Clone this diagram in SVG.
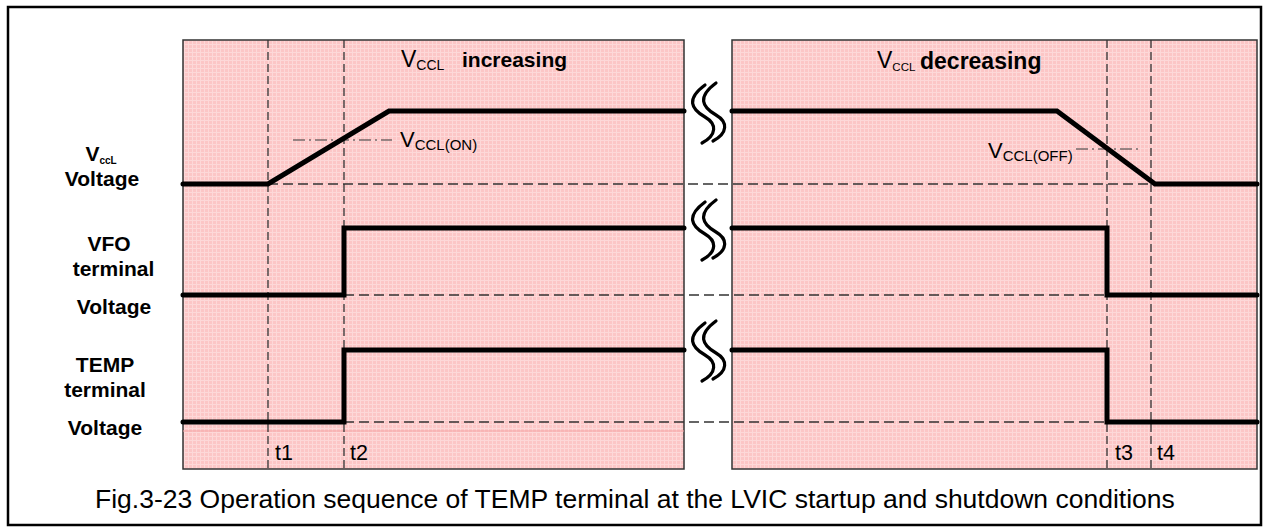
<svg xmlns="http://www.w3.org/2000/svg" width="1266" height="532" viewBox="0 0 1266 532">
<style>
.lbl{font-family:"Liberation Sans",Arial,sans-serif;font-weight:bold;font-size:21px;fill:#000;text-anchor:middle}
.txt{font-family:"Liberation Sans",Arial,sans-serif;fill:#000}
.panel{fill:url(#grid);stroke:#333;stroke-width:1.5}
.vdash{stroke:#333;stroke-width:1.3;stroke-dasharray:8,4;fill:none}
.hdash{stroke:#333;stroke-width:1.3;stroke-dasharray:10,5;fill:none}
.dd{stroke:#333;stroke-width:1.2;stroke-dasharray:12,4,2,4;fill:none}
.wave{stroke:#000;stroke-width:5;fill:none;stroke-linecap:round;stroke-linejoin:miter}
.brk{stroke:#000;stroke-width:3.2;fill:none;stroke-linecap:round}
</style>
<defs>
<pattern id="grid" width="4" height="4" patternUnits="userSpaceOnUse">
<rect width="4" height="4" fill="#fcc6c6"/>
<path d="M0 0.5H4M0.5 0V4" stroke="#fdd8d8" stroke-width="1"/>
</pattern>
<g id="brkSym">
<path class="brk" d="M-3,-28 C-22,-14 -17,-4 -3,4 C9,11 9,22 -6,30"/>
<path class="brk" d="M8,-30 C-11,-16 -6,-6 8,2 C20,9 20,20 5,28"/>
</g>
</defs>
<rect id="frame" x="8" y="7" width="1253" height="518" fill="#fff" stroke="#000" stroke-width="2.5"/>
<g id="panel-left"><rect class="panel" x="183" y="40" width="501" height="429"/><line x1="183" y1="431" x2="684" y2="431" stroke="#f4a3a3" stroke-width="1"/></g>
<g id="panel-right"><rect class="panel" x="732" y="40" width="525" height="429"/></g>
<g id="connectors">
<line class="vdash" x1="268" y1="40" x2="268" y2="472"/>
<line class="vdash" x1="344" y1="40" x2="344" y2="472"/>
<line class="vdash" x1="1107" y1="40" x2="1107" y2="472"/>
<line class="vdash" x1="1151" y1="40" x2="1151" y2="472"/>
<line class="hdash" x1="268" y1="184" x2="1155" y2="184"/>
<line class="hdash" x1="344" y1="295" x2="1107" y2="295"/>
<line class="hdash" x1="344" y1="422" x2="1107" y2="422"/>
<line class="dd" x1="293" y1="140" x2="392" y2="140"/>
<line class="dd" x1="1076" y1="149" x2="1140" y2="149"/>
<polyline class="wave" points="183,184 268,184 389,111 684,111"/>
<polyline class="wave" points="732,111 1057,111 1155,184 1257,184"/>
<polyline class="wave" points="183,295 344,295 344,228 684,228"/>
<polyline class="wave" points="732,228 1107,228 1107,295 1257,295"/>
<polyline class="wave" points="183,422 344,422 344,350 684,350"/>
<polyline class="wave" points="732,350 1107,350 1107,422 1257,422"/>
<use href="#brkSym" x="708" y="113"/>
<use href="#brkSym" x="708" y="230"/>
<use href="#brkSym" x="708" y="351"/>
</g>
<g id="label-vccl"><text class="lbl" x="101" y="161">V<tspan font-size="10" dy="3">ccL</tspan></text><text class="lbl" x="102" y="186">Voltage</text></g>
<g id="label-vfo"><text class="lbl" x="109" y="251">VFO</text><text class="lbl" x="113.5" y="276">terminal</text><text class="lbl" x="114" y="314">Voltage</text></g>
<g id="label-temp"><text class="lbl" x="105" y="372">TEMP</text><text class="lbl" x="105" y="397">terminal</text><text class="lbl" x="105" y="435">Voltage</text></g>
<g id="title-inc"><text class="txt" x="401" y="67" font-size="23">V<tspan font-size="14" dy="3">CCL</tspan></text><text class="txt" x="462" y="67" font-size="21" font-weight="bold">increasing</text></g>
<g id="title-dec"><text class="txt" x="877" y="68" font-size="23">V<tspan font-size="11.5" dy="3">CCL</tspan></text><text class="txt" x="920" y="69" font-size="23" font-weight="bold">decreasing</text></g>
<g id="vcclon"><text class="txt" x="400" y="147" font-size="22">V<tspan font-size="15" dy="3">CCL(ON)</tspan></text></g>
<g id="vccloff"><text class="txt" x="988" y="158" font-size="22">V<tspan font-size="15" dy="3">CCL(OFF)</tspan></text></g>
<g id="tlabels" class="txt" font-size="21.5">
<text x="275" y="460">t1</text><text x="350" y="460">t2</text><text x="1115" y="460">t3</text><text x="1157" y="460">t4</text>
</g>
<text id="caption" class="txt" x="95" y="508" font-size="26.5">Fig.3-23 Operation sequence of TEMP terminal at the LVIC startup and shutdown conditions</text>
</svg>
